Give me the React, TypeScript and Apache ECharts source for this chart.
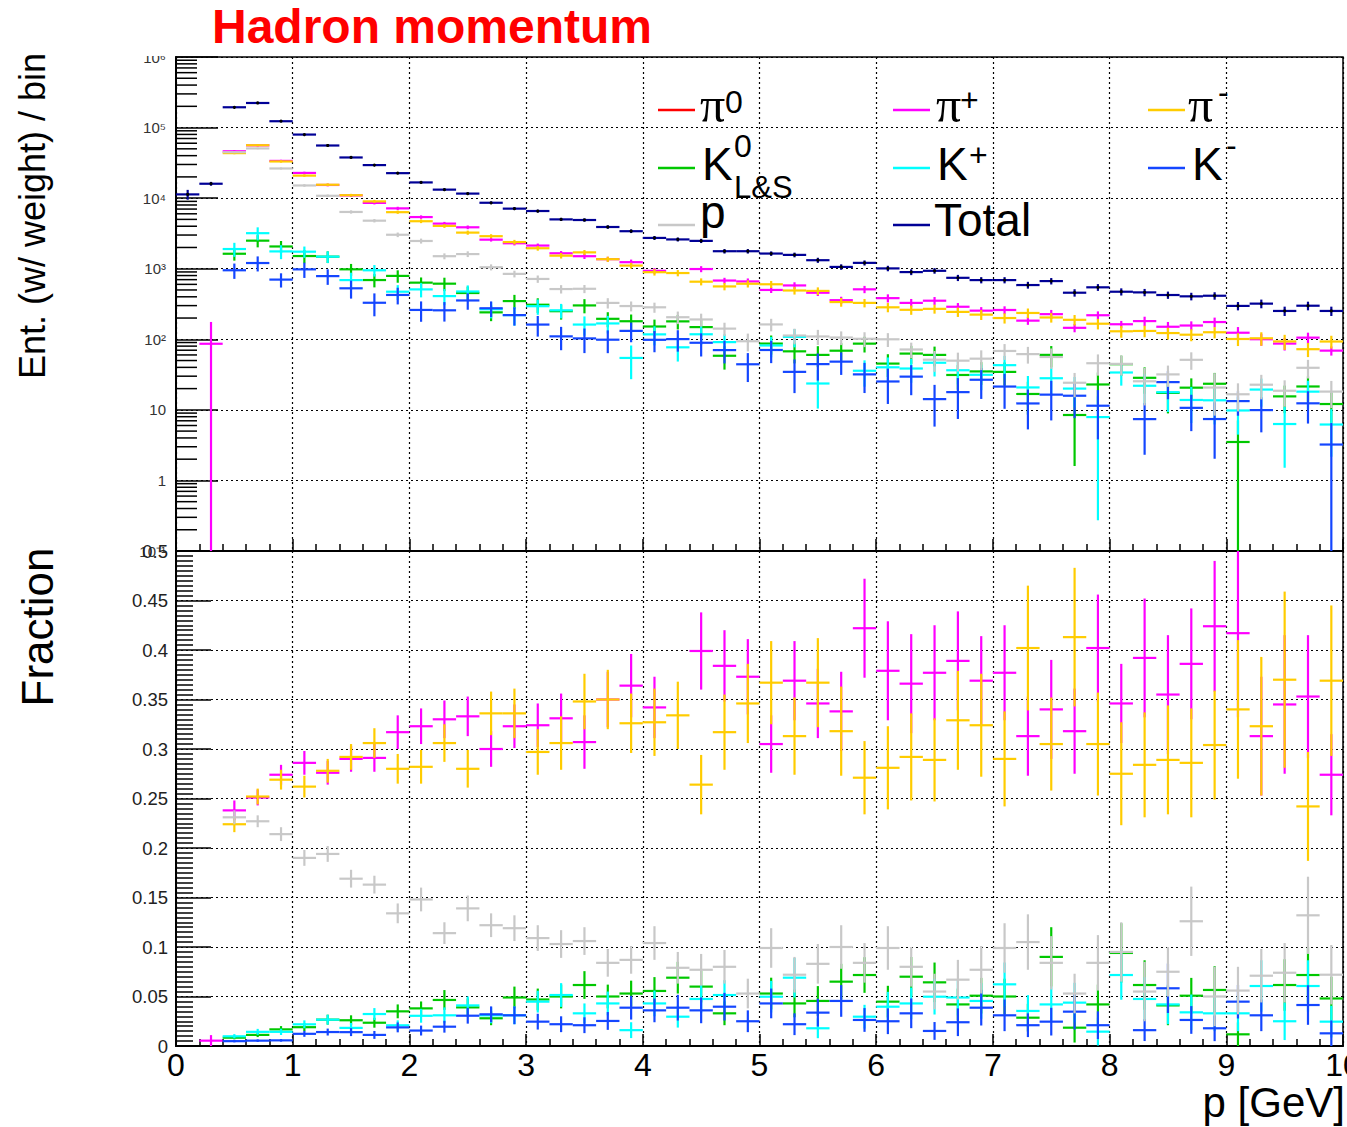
import React, { useEffect, useRef } from "react";
import * as echarts from "echarts";

// Histogram binning: 50 bins of 0.2 GeV from 0 to 10 GeV
const BIN_WIDTH = 0.2;
const N_BINS = 50;
const LOG_MIN = 0.1;
const LOG_MAX = 1e6;
const FRAC_MAX = 0.5;

// Total weighted entries per bin and their errors
const totalCounts = [
  11300, 16000, 194000, 223000, 123000, 79600, 55700, 37700, 29400, 22600,
  16700, 13200, 11600, 8600, 7100, 6570, 5000, 4900, 3900, 3400,
  2730, 2600, 2480, 1770, 1770, 1640, 1570, 1320, 1060, 1210,
  1010, 896, 934, 743, 690, 690, 587, 668, 457, 545,
  472, 462, 424, 406, 414, 297, 320, 252, 299, 252,
];
const totalErr = [
  1800, 1000, 2500, 2600, 1800, 1300, 1000, 800, 700, 600,
  500, 450, 420, 350, 320, 300, 260, 260, 220, 200,
  180, 170, 170, 130, 130, 120, 120, 110, 95, 100,
  90, 85, 85, 75, 70, 70, 65, 70, 55, 60,
  55, 55, 50, 50, 50, 40, 45, 38, 42, 38,
];

// Fractions of the total per species, with their errors (null = no entry)
const fracPiZero: (number | null)[] = [];
const errPiZero: (number | null)[] = [];

const fracPiPlus = [
  null, 0.0054, 0.238, 0.251, 0.274, 0.286, 0.276, 0.290, 0.291, 0.317,
  0.323, 0.330, 0.333, 0.300, 0.323, 0.324, 0.331, 0.307, 0.350, 0.364,
  0.342, null, 0.399, 0.384, 0.373, 0.305, 0.369, 0.346, 0.338, 0.422,
  0.379, 0.366, 0.377, 0.389, 0.369, 0.377, 0.313, 0.340, 0.318, 0.402,
  0.346, 0.392, 0.355, 0.386, 0.424, 0.417, 0.313, 0.345, 0.353, 0.274,
];
const errPiPlus = [
  null, 0.0056, 0.010, 0.008, 0.010, 0.012, 0.012, 0.013, 0.014, 0.017,
  0.018, 0.019, 0.020, 0.018, 0.022, 0.022, 0.025, 0.027, 0.028, 0.032,
  0.031, null, 0.039, 0.036, 0.038, 0.029, 0.040, 0.035, 0.040, 0.050,
  0.050, 0.050, 0.048, 0.050, 0.045, 0.048, 0.040, 0.050, 0.043, 0.054,
  0.040, 0.060, 0.060, 0.056, 0.066, 0.085, 0.060, 0.070, 0.062, 0.041,
];

const fracPiMinus = [
  null, null, 0.224, 0.252, 0.269, 0.262, 0.278, 0.292, 0.306, 0.280,
  0.282, 0.306, 0.280, 0.336, 0.336, 0.297, 0.306, 0.348, 0.350, 0.326,
  0.327, 0.334, 0.264, 0.317, 0.346, 0.367, 0.313, 0.367, 0.318, 0.271,
  0.281, 0.292, 0.289, 0.329, 0.324, 0.290, 0.402, 0.305, 0.413, 0.305,
  0.275, 0.284, 0.289, 0.286, 0.304, 0.340, 0.323, 0.370, 0.242, 0.369,
];
const errPiMinus = [
  null, null, 0.008, 0.008, 0.010, 0.011, 0.012, 0.013, 0.015, 0.015,
  0.017, 0.019, 0.019, 0.022, 0.025, 0.023, 0.027, 0.028, 0.030, 0.030,
  0.034, 0.034, 0.030, 0.038, 0.040, 0.042, 0.039, 0.045, 0.045, 0.037,
  0.042, 0.044, 0.042, 0.050, 0.052, 0.048, 0.063, 0.047, 0.070, 0.052,
  0.052, 0.053, 0.055, 0.055, 0.055, 0.070, 0.070, 0.089, 0.055, 0.076,
];

const fracK0 = [
  null, null, 0.0084, 0.0112, 0.0168, 0.019, 0.0266, 0.026, 0.0235, 0.035,
  0.038, 0.0465, 0.039, 0.028, 0.049, 0.047, 0.050, 0.0616, 0.050, 0.053,
  0.0556, 0.069, 0.060, 0.033, null, 0.053, 0.043, 0.0455, 0.065, 0.0717,
  0.0448, 0.070, 0.0643, 0.042, 0.0508, 0.050, 0.0286, 0.090, 0.0185, 0.042,
  0.094, 0.0616, 0.041, 0.0508, 0.0566, 0.0118, null, 0.0616, 0.0717, 0.048,
];
const errK0 = [
  null, null, 0.0017, 0.0022, 0.0033, 0.004, 0.005, 0.005, 0.005, 0.007,
  0.007, 0.010, 0.009, 0.007, 0.011, 0.011, 0.012, 0.014, 0.012, 0.013,
  0.014, 0.016, 0.016, 0.012, null, 0.016, 0.014, 0.015, 0.018, 0.018,
  0.016, 0.020, 0.020, 0.016, 0.018, 0.018, 0.014, 0.030, 0.015, 0.020,
  0.030, 0.025, 0.020, 0.018, 0.024, 0.012, null, 0.026, 0.028, 0.022,
];

const fracKPlus = [
  null, null, 0.0098, 0.0143, 0.0143, 0.0219, 0.0266, 0.0183, 0.0323, 0.0209,
  0.0305, 0.031, 0.041, 0.031, 0.031, 0.0448, 0.0515, 0.033, 0.043, 0.016,
  0.043, 0.0296, 0.0475, 0.0515, null, 0.0498, 0.069, 0.0179, null, 0.0296,
  0.0397, 0.043, 0.0498, 0.049, 0.0455, 0.0623, 0.0354, 0.042, 0.0438, 0.0145,
  0.0717, 0.0475, 0.042, 0.034, 0.033, 0.033, 0.0606, 0.025, 0.0606, 0.0246,
];
const errKPlus = [
  null, null, 0.0022, 0.003, 0.0032, 0.004, 0.005, 0.005, 0.006, 0.005,
  0.007, 0.008, 0.009, 0.008, 0.009, 0.011, 0.012, 0.010, 0.012, 0.008,
  0.013, 0.011, 0.014, 0.015, null, 0.016, 0.020, 0.010, null, 0.012,
  0.015, 0.016, 0.018, 0.018, 0.018, 0.022, 0.016, 0.018, 0.020, 0.014,
  0.025, 0.022, 0.020, 0.018, 0.018, 0.018, 0.026, 0.019, 0.026, 0.016,
];

const fracKMinus = [
  null, null, 0.0049, 0.0054, 0.0057, 0.0123, 0.0141, 0.014, 0.0112, 0.0188,
  0.0156, 0.0195, 0.0306, 0.032, 0.031, 0.0246, 0.022, 0.021, 0.0253, 0.0387,
  0.036, 0.0387, 0.036, 0.0397, 0.025, 0.043, 0.022, 0.0337, 0.0455, 0.0263,
  0.025, 0.033, 0.0152, 0.024, 0.0387, 0.031, 0.021, 0.0246, 0.0347, 0.021,
  null, 0.016, 0.0583, 0.0263, 0.0179, 0.0448, 0.031, null, 0.0414, 0.0128,
];
const errKMinus = [
  null, null, 0.0012, 0.0013, 0.0013, 0.003, 0.0035, 0.004, 0.004, 0.005,
  0.005, 0.006, 0.008, 0.008, 0.009, 0.008, 0.008, 0.008, 0.009, 0.012,
  0.012, 0.013, 0.013, 0.014, 0.011, 0.015, 0.011, 0.014, 0.016, 0.012,
  0.013, 0.015, 0.009, 0.014, 0.018, 0.016, 0.012, 0.014, 0.018, 0.014,
  null, 0.011, 0.025, 0.014, 0.013, 0.017, 0.016, null, 0.020, 0.013,
];

const fracProton = [
  null, null, 0.231, 0.227, 0.214, 0.190, 0.194, 0.169, 0.163, 0.134,
  0.148, 0.114, 0.139, 0.122, 0.119, 0.109, 0.103, 0.106, 0.084, 0.087,
  0.104, 0.079, 0.077, 0.080, 0.053, 0.099, 0.072, 0.083, 0.100, 0.084,
  0.099, 0.080, 0.055, 0.067, 0.077, 0.099, 0.105, 0.084, 0.053, 0.084,
  0.095, 0.055, 0.075, 0.126, 0.050, 0.056, 0.071, 0.074, 0.132, 0.072,
];
const errProton = [
  null, null, 0.007, 0.006, 0.007, 0.008, 0.008, 0.009, 0.009, 0.010,
  0.012, 0.011, 0.013, 0.012, 0.013, 0.013, 0.014, 0.014, 0.014, 0.014,
  0.017, 0.016, 0.016, 0.017, 0.015, 0.020, 0.018, 0.020, 0.022, 0.020,
  0.022, 0.020, 0.018, 0.020, 0.024, 0.025, 0.028, 0.027, 0.020, 0.028,
  0.030, 0.030, 0.025, 0.035, 0.030, 0.024, 0.027, 0.030, 0.039, 0.030,
];

const COLORS = {
  piZero: "#ff0000",
  piPlus: "#ff00ff",
  piMinus: "#ffcc00",
  k0: "#00c800",
  kPlus: "#00ffff",
  kMinus: "#1446ff",
  proton: "#c8c8c8",
  total: "#000096",
};

type Species = { id: string; color: string; frac: (number | null)[]; err: (number | null)[] };

const SPECIES: Species[] = [
  { id: "pi0", color: COLORS.piZero, frac: fracPiZero, err: errPiZero },
  { id: "pi+", color: COLORS.piPlus, frac: fracPiPlus, err: errPiPlus },
  { id: "pi-", color: COLORS.piMinus, frac: fracPiMinus, err: errPiMinus },
  { id: "K0", color: COLORS.k0, frac: fracK0, err: errK0 },
  { id: "K+", color: COLORS.kPlus, frac: fracKPlus, err: errKPlus },
  { id: "K-", color: COLORS.kMinus, frac: fracKMinus, err: errKMinus },
  { id: "p", color: COLORS.proton, frac: fracProton, err: errProton },
];

const SANS = "'Liberation Sans', Arial, Helvetica, sans-serif";
const SERIF = "'Liberation Serif', 'Times New Roman', serif";
const LINE_W = 2.2;

const binLo = (i: number) => i * BIN_WIDTH;
const binHi = (i: number) => (i + 1) * BIN_WIDTH;
const binMid = (i: number) => (i + 0.5) * BIN_WIDTH;

// [x center, y, x low, x high, y low, y high]
function countItems(s: Species) {
  const out: number[][] = [];
  for (let i = 0; i < N_BINS; i++) {
    const f = s.frac[i];
    if (f == null) continue;
    const n = f * totalCounts[i];
    const e = (s.err[i] ?? 0) * totalCounts[i];
    out.push([binMid(i), n, binLo(i), binHi(i), Math.max(n - e, LOG_MIN), n + e]);
  }
  return out;
}

function fractionItems(s: Species) {
  const out: number[][] = [];
  for (let i = 0; i < N_BINS; i++) {
    const f = s.frac[i];
    if (f == null) continue;
    const e = s.err[i] ?? 0;
    out.push([binMid(i), f, binLo(i), binHi(i), Math.max(f - e, 0), Math.min(f + e, FRAC_MAX)]);
  }
  return out;
}

function totalItems() {
  return totalCounts.map((n, i) => [
    binMid(i), n, binLo(i), binHi(i), Math.max(n - totalErr[i], LOG_MIN), n + totalErr[i],
  ]);
}

function crossRenderer(color: string, withDot: boolean) {
  return (_params: any, api: any) => {
    const xc = api.value(0);
    const y = api.value(1);
    const left = api.coord([api.value(2), y]);
    const right = api.coord([api.value(3), y]);
    const bottom = api.coord([xc, api.value(4)]);
    const top = api.coord([xc, api.value(5)]);
    const children: any[] = [
      {
        type: "line",
        shape: { x1: left[0], y1: left[1], x2: right[0], y2: right[1] },
        style: { stroke: color, lineWidth: LINE_W },
      },
      {
        type: "line",
        shape: { x1: bottom[0], y1: bottom[1], x2: top[0], y2: top[1] },
        style: { stroke: color, lineWidth: LINE_W },
      },
    ];
    if (withDot) {
      const c = api.coord([xc, y]);
      children.push({ type: "circle", shape: { cx: c[0], cy: c[1], r: 1.6 }, style: { fill: "#000" } });
    }
    return { type: "group", children };
  };
}

// Log-axis minor tick positions: 2..9 x 10^k
const minorLogTicks: number[][] = [];
for (let k = -1; k < 6; k++) {
  for (let m = 2; m <= 9; m++) minorLogTicks.push([0, m * Math.pow(10, k)]);
}

const SUP: Record<string, string> = {
  "-": "\u207b", "0": "\u2070", "1": "\u00b9", "2": "\u00b2", "3": "\u00b3",
  "4": "\u2074", "5": "\u2075", "6": "\u2076", "7": "\u2077", "8": "\u2078", "9": "\u2079",
};
function logLabel(v: number) {
  const e = Math.round(Math.log10(v));
  if (e === 0) return "1";
  if (e === 1) return "10";
  return "10" + String(e).split("").map((c) => SUP[c]).join("");
}

const gridLine = { show: true, lineStyle: { color: "#000", type: [2, 3], width: 1.2 } };
const axisLineStyle = { show: true, onZero: false, lineStyle: { color: "#000", width: 2 } };

function buildOption() {
  const series: any[] = [];
  SPECIES.forEach((s) => {
    series.push({
      type: "custom",
      name: s.id + " counts",
      xAxisIndex: 0,
      yAxisIndex: 0,
      clip: true,
      renderItem: crossRenderer(s.color, false),
      encode: { x: 0, y: 1 },
      data: countItems(s),
    });
  });
  series.push({
    type: "custom",
    name: "Total",
    xAxisIndex: 0,
    yAxisIndex: 0,
    clip: true,
    renderItem: crossRenderer(COLORS.total, true),
    encode: { x: 0, y: 1 },
    data: totalItems(),
  });
  SPECIES.forEach((s) => {
    series.push({
      type: "custom",
      name: s.id + " fraction",
      xAxisIndex: 1,
      yAxisIndex: 1,
      clip: true,
      renderItem: crossRenderer(s.color, false),
      encode: { x: 0, y: 1 },
      data: fractionItems(s),
    });
  });
  series.push({
    type: "custom",
    name: "log minor ticks",
    xAxisIndex: 0,
    yAxisIndex: 0,
    silent: true,
    renderItem: (_p: any, api: any) => {
      const c = api.coord([api.value(0), api.value(1)]);
      return {
        type: "line",
        shape: { x1: c[0], y1: c[1], x2: c[0] + 21, y2: c[1] },
        style: { stroke: "#000", lineWidth: 1.5 },
      };
    },
    encode: { x: 0, y: 1 },
    data: minorLogTicks,
  });

  const legendRows = [106, 164, 220];
  const lineY = [110, 168, 225];
  const colLine = [658, 893, 1148];
  const legendLine = (col: number, row: number, color: string) => ({
    type: "line",
    shape: { x1: colLine[col], y1: lineY[row], x2: colLine[col] + 37, y2: lineY[row] },
    style: { stroke: color, lineWidth: 2.5 },
    z: 100,
  });
  const txt = (x: number, y: number, text: string, size: number, family = SANS, extra: any = {}) => ({
    type: "text",
    x,
    y,
    z: 100,
    style: {
      text,
      fontSize: size,
      fontFamily: family,
      fill: "#000",
      align: "left",
      verticalAlign: "middle",
      ...extra,
    },
  });

  const graphic: any[] = [
    // pad edge hides the upper half of the top decade label
    { type: "rect", shape: { x: 100, y: 0, width: 75, height: 56 }, style: { fill: "#fff" }, z: 200 },
    txt(212, 26, "Hadron momentum", 48, SANS, { fill: "#ff0000", fontWeight: "bold" }),
    {
      type: "text", x: 32, y: 216, rotation: Math.PI / 2, z: 100,
      style: { text: "Ent. (w/ weight) / bin", fontSize: 36, fontFamily: SANS, fill: "#000", align: "center", verticalAlign: "middle" },
    },
    {
      type: "text", x: 37, y: 627, rotation: Math.PI / 2, z: 100,
      style: { text: "Fraction", fontSize: 44, fontFamily: SANS, fill: "#000", align: "center", verticalAlign: "middle" },
    },
    txt(1345, 1102, "p [GeV]", 42, SANS, { align: "right" }),

    legendLine(0, 0, COLORS.piZero),
    txt(700, legendRows[0] - 1, "\u03c0", 50, SERIF),
    txt(725, 102, "0", 32),
    legendLine(1, 0, COLORS.piPlus),
    txt(936, legendRows[0] - 1, "\u03c0", 50, SERIF),
    txt(960, 100, "+", 32),
    legendLine(2, 0, COLORS.piMinus),
    txt(1188, legendRows[0] - 1, "\u03c0", 50, SERIF),
    txt(1218, 92, "-", 32),

    legendLine(0, 1, COLORS.k0),
    txt(702, legendRows[1], "K", 46),
    txt(734, 146, "0", 32),
    txt(734, 187, "L&S", 31),
    legendLine(1, 1, COLORS.kPlus),
    txt(937, legendRows[1], "K", 46),
    txt(969, 155, "+", 32),
    legendLine(2, 1, COLORS.kMinus),
    txt(1192, legendRows[1], "K", 46),
    txt(1226, 145, "-", 32),

    legendLine(0, 2, COLORS.proton),
    txt(700, 212, "p", 46),
    legendLine(1, 2, COLORS.total),
    txt(934, legendRows[2], "Total", 46),
  ];

  return {
    animation: false,
    backgroundColor: "#fff",
    textStyle: { fontFamily: SANS },
    grid: [
      { left: 176, top: 57, width: 1167, height: 494, show: true, borderColor: "#000", borderWidth: 1.5, containLabel: false, outerBoundsMode: "none" },
      { left: 176, top: 551, width: 1167, height: 495, show: true, borderColor: "#000", borderWidth: 1.5, containLabel: false, outerBoundsMode: "none" },
    ],
    xAxis: [
      {
        type: "value", gridIndex: 0, min: 0, max: 10, interval: 1,
        axisLine: axisLineStyle,
        axisTick: { show: true, inside: true, length: 12, lineStyle: { color: "#000", width: 1.5 } },
        minorTick: { show: true, splitNumber: 5, length: 7, lineStyle: { color: "#000", width: 1.5 } },
        axisLabel: { show: false },
        splitLine: gridLine,
      },
      {
        type: "value", gridIndex: 1, min: 0, max: 10, interval: 1,
        axisLine: axisLineStyle,
        axisTick: { show: true, inside: true, length: 12, lineStyle: { color: "#000", width: 1.5 } },
        minorTick: { show: true, splitNumber: 5, length: 7, lineStyle: { color: "#000", width: 1.5 } },
        axisLabel: { show: true, fontSize: 32, color: "#000", margin: 3, fontFamily: SANS, showMinLabel: true, showMaxLabel: true },
        splitLine: gridLine,
      },
    ],
    yAxis: [
      {
        type: "log", gridIndex: 0, min: LOG_MIN, max: LOG_MAX, logBase: 10, splitNumber: 7,
        axisLine: axisLineStyle,
        axisTick: { show: true, inside: true, length: 42, lineStyle: { color: "#000", width: 1.5 } },
        axisLabel: { fontSize: 15, color: "#333", margin: 10, fontFamily: SANS, formatter: logLabel, showMinLabel: true, showMaxLabel: true },
        splitLine: gridLine,
      },
      {
        type: "value", gridIndex: 1, min: 0, max: FRAC_MAX, interval: 0.05,
        axisLine: axisLineStyle,
        axisTick: { show: true, inside: true, length: 35, lineStyle: { color: "#000", width: 1.5 } },
        minorTick: { show: true, splitNumber: 10, length: 17, lineStyle: { color: "#000", width: 1.5 } },
        axisLabel: {
          fontSize: 18.5, color: "#222", margin: 8, fontFamily: SANS, showMinLabel: true, showMaxLabel: true,
          formatter: (v: number) => String(parseFloat(v.toFixed(3))),
        },
        splitLine: gridLine,
      },
    ],
    series,
    graphic,
  };
}

export default function App() {
  const ref = useRef<HTMLDivElement>(null);
  useEffect(() => {
    if (!ref.current) return;
    const chart = echarts.init(ref.current, null, { renderer: "svg" });
    chart.setOption(buildOption() as any);
    return () => chart.dispose();
  }, []);
  return (
    <div
      ref={ref}
      style={{ position: "absolute", left: 0, top: 0, width: 1347, height: 1127, background: "#fff" }}
    />
  );
}
